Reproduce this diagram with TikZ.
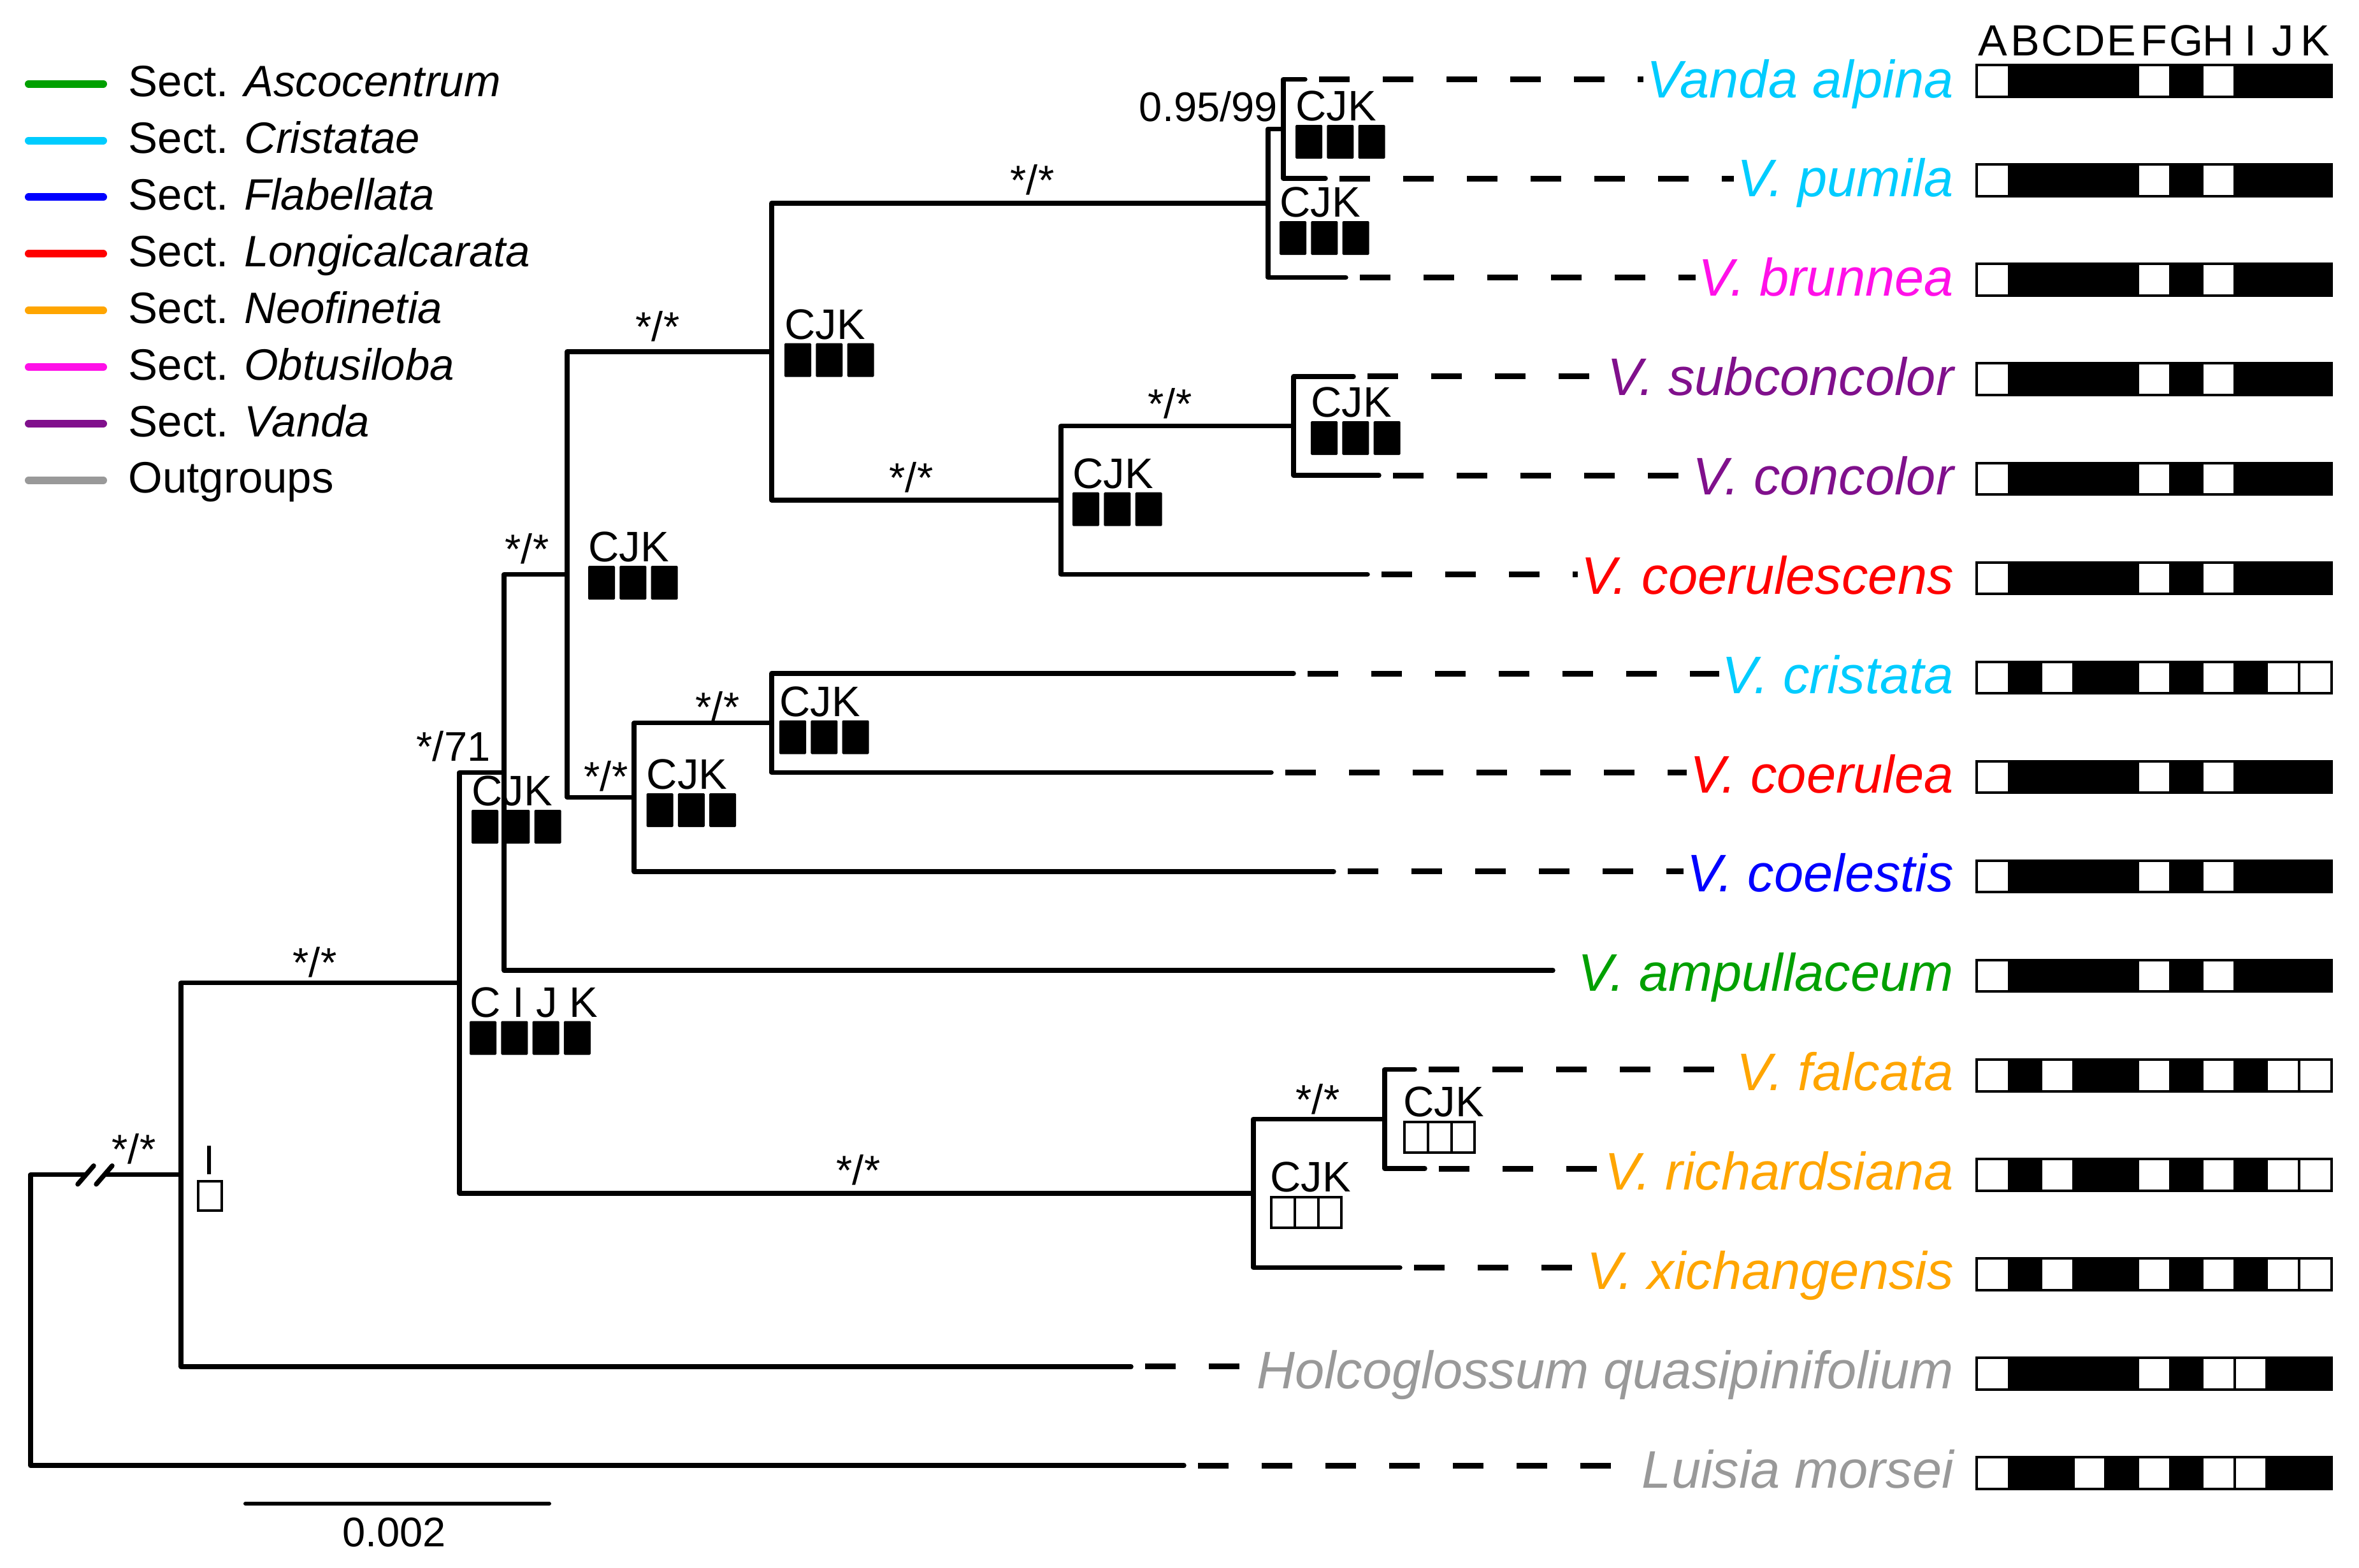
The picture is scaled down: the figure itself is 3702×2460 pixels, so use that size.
\documentclass[tikz,border=0pt]{standalone}
\usepackage{fontspec}
\setmainfont{Liberation Sans}
\usetikzlibrary{calc}
\definecolor{cAsc}{RGB}{0,160,0}
\definecolor{cCri}{RGB}{0,204,255}
\definecolor{cFla}{RGB}{0,0,255}
\definecolor{cLon}{RGB}{255,0,0}
\definecolor{cNeo}{RGB}{255,165,0}
\definecolor{cObt}{RGB}{255,16,232}
\definecolor{cVan}{RGB}{128,16,140}
\definecolor{cOut}{RGB}{153,153,153}
\colorlet{cw}{white}
\colorlet{cb}{black}
\newcommand\charrow[2]{%
  \foreach \c [count=\k from 0] in {#2}{%
    \draw[cell, fill=\c] ({3102+\k*50.6},{#1-24.8}) rectangle ++(50.6,49.6);}}
\newcommand\fboxes[3]{%
  \foreach \k in {1,...,#3}{%
    \fill[fbox] ({#1+(\k-1)*49.3},{#2}) rectangle ++(42,53);}}
\newcommand\eboxes[2]{%
  \foreach \k in {0,1,2}{%
    \draw[ebox] ({#1+2+\k*36.8},{#2+2}) rectangle ++(36.8,48);}}
\begin{document}
\begin{tikzpicture}[x=1pt,y=-1pt,
  br/.style={line width=7.5pt, line cap=round, line join=round},
  dsh/.style={line width=9pt, dash pattern=on 48pt off 52pt},
  taxon/.style={font=\fontsize{83}{90}\selectfont\itshape, inner sep=0pt, anchor=base east},
  suplab/.style={font=\fontsize{65}{70}\selectfont, inner sep=0pt, anchor=base},
  cjk/.style={font=\fontsize{67}{72}\selectfont, inner sep=0pt, anchor=base west},
  hdr/.style={font=\fontsize{68.5}{72}\selectfont, inner sep=0pt, anchor=base},
  leg/.style={font=\fontsize{69}{75}\selectfont, inner sep=0pt, anchor=base west},
  legi/.style={font=\fontsize{69}{75}\selectfont\itshape, inner sep=0pt, anchor=base west},
  legline/.style={line width=12pt, line cap=round},
  cell/.style={draw=black, line width=4pt},
  fbox/.style={fill=black, rounded corners=1.5pt},
  ebox/.style={draw=black, line width=4pt, fill=white}]
\useasboundingbox (0,0) rectangle (3702,2460);
\fill[white] (0,0) rectangle (3702,2460);

% ---------- legend ----------
\foreach \col/\nm [count=\k from 0] in {cAsc/Ascocentrum, cCri/Cristatae, cFla/Flabellata, cLon/Longicalcarata, cNeo/Neofinetia, cObt/Obtusiloba, cVan/Vanda}{
  \draw[legline, \col] (45,{131.6+88.9*\k}) -- (162,{131.6+88.9*\k});
  \node[leg] (ls\k) at (201.5,{151.6+88.9*\k}) {Sect.};
  \node[legi] (li\k) at (383,{151.6+88.9*\k}) {\nm};
}
\draw[legline, cOut] (45,753.9) -- (162,753.9);
\node[leg] (lout) at (201.5,773.9) {Outgroups};

% ---------- tips (end of solid branch) ----------
\coordinate (t0) at (2048,124.6);
\coordinate (t1) at (2080,280.0);
\coordinate (t2) at (2112,435.4);
\coordinate (t3) at (2124,590.8);
\coordinate (t4) at (2164,746.2);
\coordinate (t5) at (2146,901.6);
\coordinate (t6) at (2030,1057.0);
\coordinate (t7) at (1995,1212.4);
\coordinate (t8) at (2093,1367.8);
\coordinate (t9) at (2437,1523.2);
\coordinate (t10) at (2220,1678.6);
\coordinate (t11) at (2236,1834.0);
\coordinate (t12) at (2197,1989.4);
\coordinate (t13) at (1775,2144.8);
\coordinate (t14) at (1858,2300.2);

% ---------- internal nodes ----------
\coordinate (G2) at (2014,202.3);
\coordinate (G) at (1990,318.85);
\coordinate (I) at (2030,668.5);
\coordinate (H) at (1665,785.05);
\coordinate (F) at (1211,551.95);
\coordinate (J) at (1211,1134.7);
\coordinate (E) at (995,1251.25);
\coordinate (D) at (890,901.6);
\coordinate (C) at (791,1212.4);
\coordinate (L) at (2173,1756.3);
\coordinate (K) at (1967,1872.85);
\coordinate (B) at (721,1542.6);
\coordinate (A) at (284,1843.7);
\coordinate (R) at (48,2072);
\coordinate (brk1) at (134,1843.7);
\coordinate (brk2) at (164,1843.7);

% ---------- taxon labels ----------
\node[taxon, text=cCri] (lab0) at (3066,153.0) {Vanda alpina};
\node[taxon, text=cCri] (lab1) at (3066,308.9) {V. pumila};
\node[taxon, text=cObt] (lab2) at (3066,464.7) {V. brunnea};
\node[taxon, text=cVan] (lab3) at (3066,620.6) {V. subconcolor};
\node[taxon, text=cVan] (lab4) at (3066,776.4) {V. concolor};
\node[taxon, text=cLon] (lab5) at (3066,932.3) {V. coerulescens};
\node[taxon, text=cCri] (lab6) at (3066,1088.2) {V. cristata};
\node[taxon, text=cLon] (lab7) at (3066,1244.0) {V. coerulea};
\node[taxon, text=cFla] (lab8) at (3066,1399.9) {V. coelestis};
\node[taxon, text=cAsc] (lab9) at (3066,1555.7) {V. ampullaceum};
\node[taxon, text=cNeo] (lab10) at (3066,1711.6) {V. falcata};
\node[taxon, text=cNeo] (lab11) at (3066,1867.5) {V. richardsiana};
\node[taxon, text=cNeo] (lab12) at (3066,2023.3) {V. xichangensis};
\node[taxon, text=cOut] (lab13) at (3066,2179.2) {Holcoglossum quasipinifolium};
\node[taxon, text=cOut] (lab14) at (3066,2335.0) {Luisia morsei};

% ---------- branches ----------
\draw[br] (t0) -- (t0 -| G2) -- (t1 -| G2) -- (t1);
\draw[br] (G2) -- (G2 -| G) -- (t2 -| G) -- (t2);
\draw[br] (t3) -- (t3 -| I) -- (t4 -| I) -- (t4);
\draw[br] (I) -- (I -| H) -- (t5 -| H) -- (t5);
\draw[br] (G) -- (G -| F) -- (H -| F) -- (H);
\draw[br] (t6) -- (t6 -| J) -- (t7 -| J) -- (t7);
\draw[br] (J) -- (J -| E) -- (t8 -| E) -- (t8);
\draw[br] (F) -- (F -| D) -- (E -| D) -- (E);
\draw[br] (D) -- (D -| C) -- (t9 -| C) -- (t9);
\draw[br] (t10) -- (t10 -| L) -- (t11 -| L) -- (t11);
\draw[br] (L) -- (L -| K) -- (t12 -| K) -- (t12);
\draw[br] (C) -- (C -| B) -- (K -| B) -- (K);
\draw[br] (B) -- (B -| A) -- (t13 -| A) -- (t13);
\draw[br] (A) -- (brk2);
\draw[br] (brk1) -- (brk1 -| R) -- (t14 -| R) -- (t14);
\draw[br] ($(brk1)+(-12,15)$) -- ($(brk1)+(13,-14)$);
\draw[br] ($(brk2)+(-13,15)$) -- ($(brk2)+(12,-14)$);

% ---------- dashed extensions ----------
\foreach \i in {0,1,2,3,4,5,6,7,8,10,11,12,13,14}{
  \draw[dsh] ($(t\i)+(22,0)$) -- ($(lab\i.west |- t\i)+(-5,0)$);
}

% ---------- support values ----------
\node[suplab] (sRA) at (210,1826) {*/*};
\node[suplab] (sAB) at (494,1533) {*/*};
\node[suplab] (sBC) at (711.5,1194) {*/71};
\node[suplab] (sCD) at (827,884) {*/*};
\node[suplab] (sDF) at (1032,535.5) {*/*};
\node[suplab] (sDE) at (951,1241) {*/*};
\node[suplab] (sEJ) at (1126,1132.7) {*/*};
\node[suplab] (sFG) at (1620,305) {*/*};
\node[suplab] (sFH) at (1430,772.6) {*/*};
\node[suplab] (sHI) at (1836,656.3) {*/*};
\node[suplab] (sBK) at (1347,1859.4) {*/*};
\node[suplab] (sKL) at (2068,1748) {*/*};
\node[suplab, anchor=base east] (sG2) at (2005,190.6) {0.95/99};

% ---------- node character annotations ----------
\node[cjk] (aG2) at (2033,189.5) {CJK}; \fboxes{2033}{196}{3}
\node[cjk] (aG) at (2008,340.5) {CJK}; \fboxes{2008}{347}{3}
\node[cjk] (aF) at (1231,532.1) {CJK}; \fboxes{1231}{538.6}{3}
\node[cjk] (aH) at (1683,766.2) {CJK}; \fboxes{1683}{772.7}{3}
\node[cjk] (aI) at (2057,654.5) {CJK}; \fboxes{2057}{661}{3}
\node[cjk] (aD) at (923,881.5) {CJK}; \fboxes{923}{888}{3}
\node[cjk] (aC) at (740,1264.5) {CJK}; \fboxes{740}{1271}{3}
\node[cjk] (aE) at (1014.6,1238.5) {CJK}; \fboxes{1014.6}{1245}{3}
\node[cjk] (aJ) at (1223,1124) {CJK}; \fboxes{1223}{1130.5}{3}
\node[cjk] (aB) at (737,1596) {C I J K}; \fboxes{737}{1602.5}{4}
\node[cjk] (aK) at (1993,1870.5) {CJK}; \eboxes{1993}{1877}
\node[cjk] (aL) at (2202,1752.5) {CJK}; \eboxes{2202}{1759}
\node[suplab] (aA) at (329,1843) {I};
\draw[ebox] (311,1854) rectangle (347.5,1900);

% ---------- character matrix ----------
\foreach \l [count=\k from 0] in {A,B,C,D,E,F,G,H,I,J,K}{
  \node[hdr] (h\l) at ({3102+50.6*(\k+0.5)},87) {\l};
}
\charrow{127.0}{cw,cb,cb,cb,cb,cw,cb,cw,cb,cb,cb}
\charrow{283.1}{cw,cb,cb,cb,cb,cw,cb,cw,cb,cb,cb}
\charrow{439.1}{cw,cb,cb,cb,cb,cw,cb,cw,cb,cb,cb}
\charrow{595.2}{cw,cb,cb,cb,cb,cw,cb,cw,cb,cb,cb}
\charrow{751.3}{cw,cb,cb,cb,cb,cw,cb,cw,cb,cb,cb}
\charrow{907.4}{cw,cb,cb,cb,cb,cw,cb,cw,cb,cb,cb}
\charrow{1063.4}{cw,cb,cw,cb,cb,cw,cb,cw,cb,cw,cw}
\charrow{1219.5}{cw,cb,cb,cb,cb,cw,cb,cw,cb,cb,cb}
\charrow{1375.6}{cw,cb,cb,cb,cb,cw,cb,cw,cb,cb,cb}
\charrow{1531.6}{cw,cb,cb,cb,cb,cw,cb,cw,cb,cb,cb}
\charrow{1687.7}{cw,cb,cw,cb,cb,cw,cb,cw,cb,cw,cw}
\charrow{1843.8}{cw,cb,cw,cb,cb,cw,cb,cw,cb,cw,cw}
\charrow{1999.8}{cw,cb,cw,cb,cb,cw,cb,cw,cb,cw,cw}
\charrow{2155.9}{cw,cb,cb,cb,cb,cw,cb,cw,cw,cb,cb}
\charrow{2312.0}{cw,cb,cb,cw,cb,cw,cb,cw,cw,cb,cb}

% ---------- scale bar ----------
\coordinate (sb1) at (385,2360);
\coordinate (sb2) at (862,2360);
\draw[line width=6pt, line cap=round] (sb1) -- (sb2);
\node[suplab] (sbl) at (618.5,2427.5) {0.002};
\end{tikzpicture}
\end{document}
